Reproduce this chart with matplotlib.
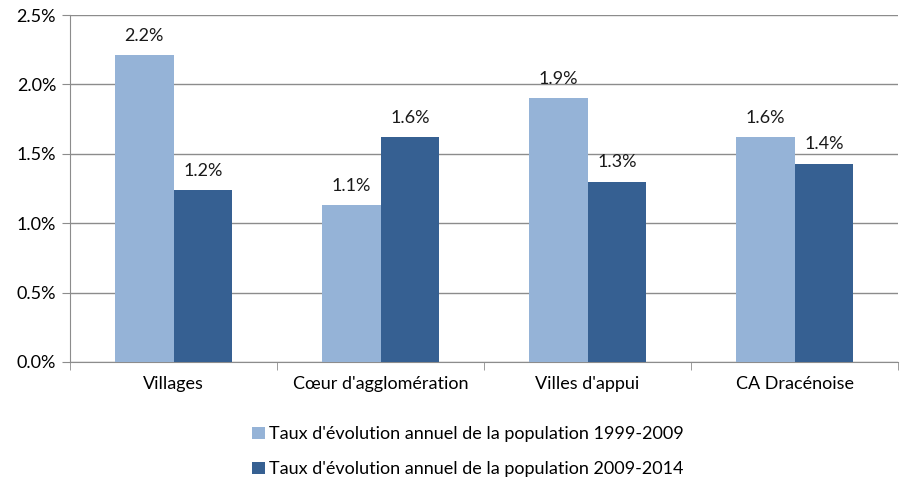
import matplotlib
matplotlib.use("Agg")
import matplotlib.pyplot as plt
import numpy as np

categories = ["Villages", "Cœur d'agglomération", "Villes d'appui", "CA Dracénoise"]
series_names = ["Taux d'évolution annuel de la population 1999-2009",
                "Taux d'évolution annuel de la population 2009-2014"]
values_1999_2009 = [2.21, 1.13, 1.90, 1.62]
values_2009_2014 = [1.24, 1.62, 1.30, 1.43]
labels_1999_2009 = ["2.2%", "1.1%", "1.9%", "1.6%"]
labels_2009_2014 = ["1.2%", "1.6%", "1.3%", "1.4%"]
yticks = [0.0, 0.5, 1.0, 1.5, 2.0, 2.5]

plt.rcParams['font.family'] = ['Lato', 'DejaVu Sans']
colors = ["#95B3D7", "#366092"]
fs = 13

fig = plt.figure(figsize=(9, 4.8), dpi=100)
ax = fig.add_axes([70/900, 1-362/480, 828/900, 347/480])

x = np.arange(len(categories))
w = 0.285
b1 = ax.bar(x - w/2, values_1999_2009, w, color=colors[0], label=series_names[0], zorder=3)
b2 = ax.bar(x + w/2, values_2009_2014, w, color=colors[1], label=series_names[1], zorder=3)
for bars, labs in ((b1, labels_1999_2009), (b2, labels_2009_2014)):
    for r, t in zip(bars, labs):
        ax.text(r.get_x() + r.get_width()/2, r.get_height() + 0.08, t,
                ha='center', va='bottom', fontsize=fs, color='#1a1a1a')

ax.set_xlim(-0.5, len(categories) - 0.5)
ax.set_ylim(0, 2.5)
ax.set_yticks(yticks)
ax.set_yticklabels([f"{v:.1f}%" for v in yticks], fontsize=fs)
ax.yaxis.grid(True, color='#8c8c8c', linewidth=1, zorder=0)
ax.set_axisbelow(True)

ax.set_xticks(x)
ax.set_xticklabels(categories, fontsize=fs)
ax.set_xticks(np.arange(-0.5, len(categories)), minor=True)
ax.tick_params(axis='x', which='major', length=0, pad=10)
ax.tick_params(axis='x', which='minor', length=6, color='#8c8c8c', direction='out')
ax.tick_params(axis='y', length=6, color='#8c8c8c', pad=4)

for s in ['top', 'right']:
    ax.spines[s].set_visible(False)
for s in ['left', 'bottom']:
    ax.spines[s].set_color('#8c8c8c')

leg = fig.legend(handles=[b1, b2], loc='upper left', bbox_to_anchor=(236/900, 1-410/480),
                 frameon=False, fontsize=fs, handlelength=0.7, handleheight=0.7,
                 handletextpad=0.25, labelspacing=1.05)

fig.savefig("out.png", dpi=100)
